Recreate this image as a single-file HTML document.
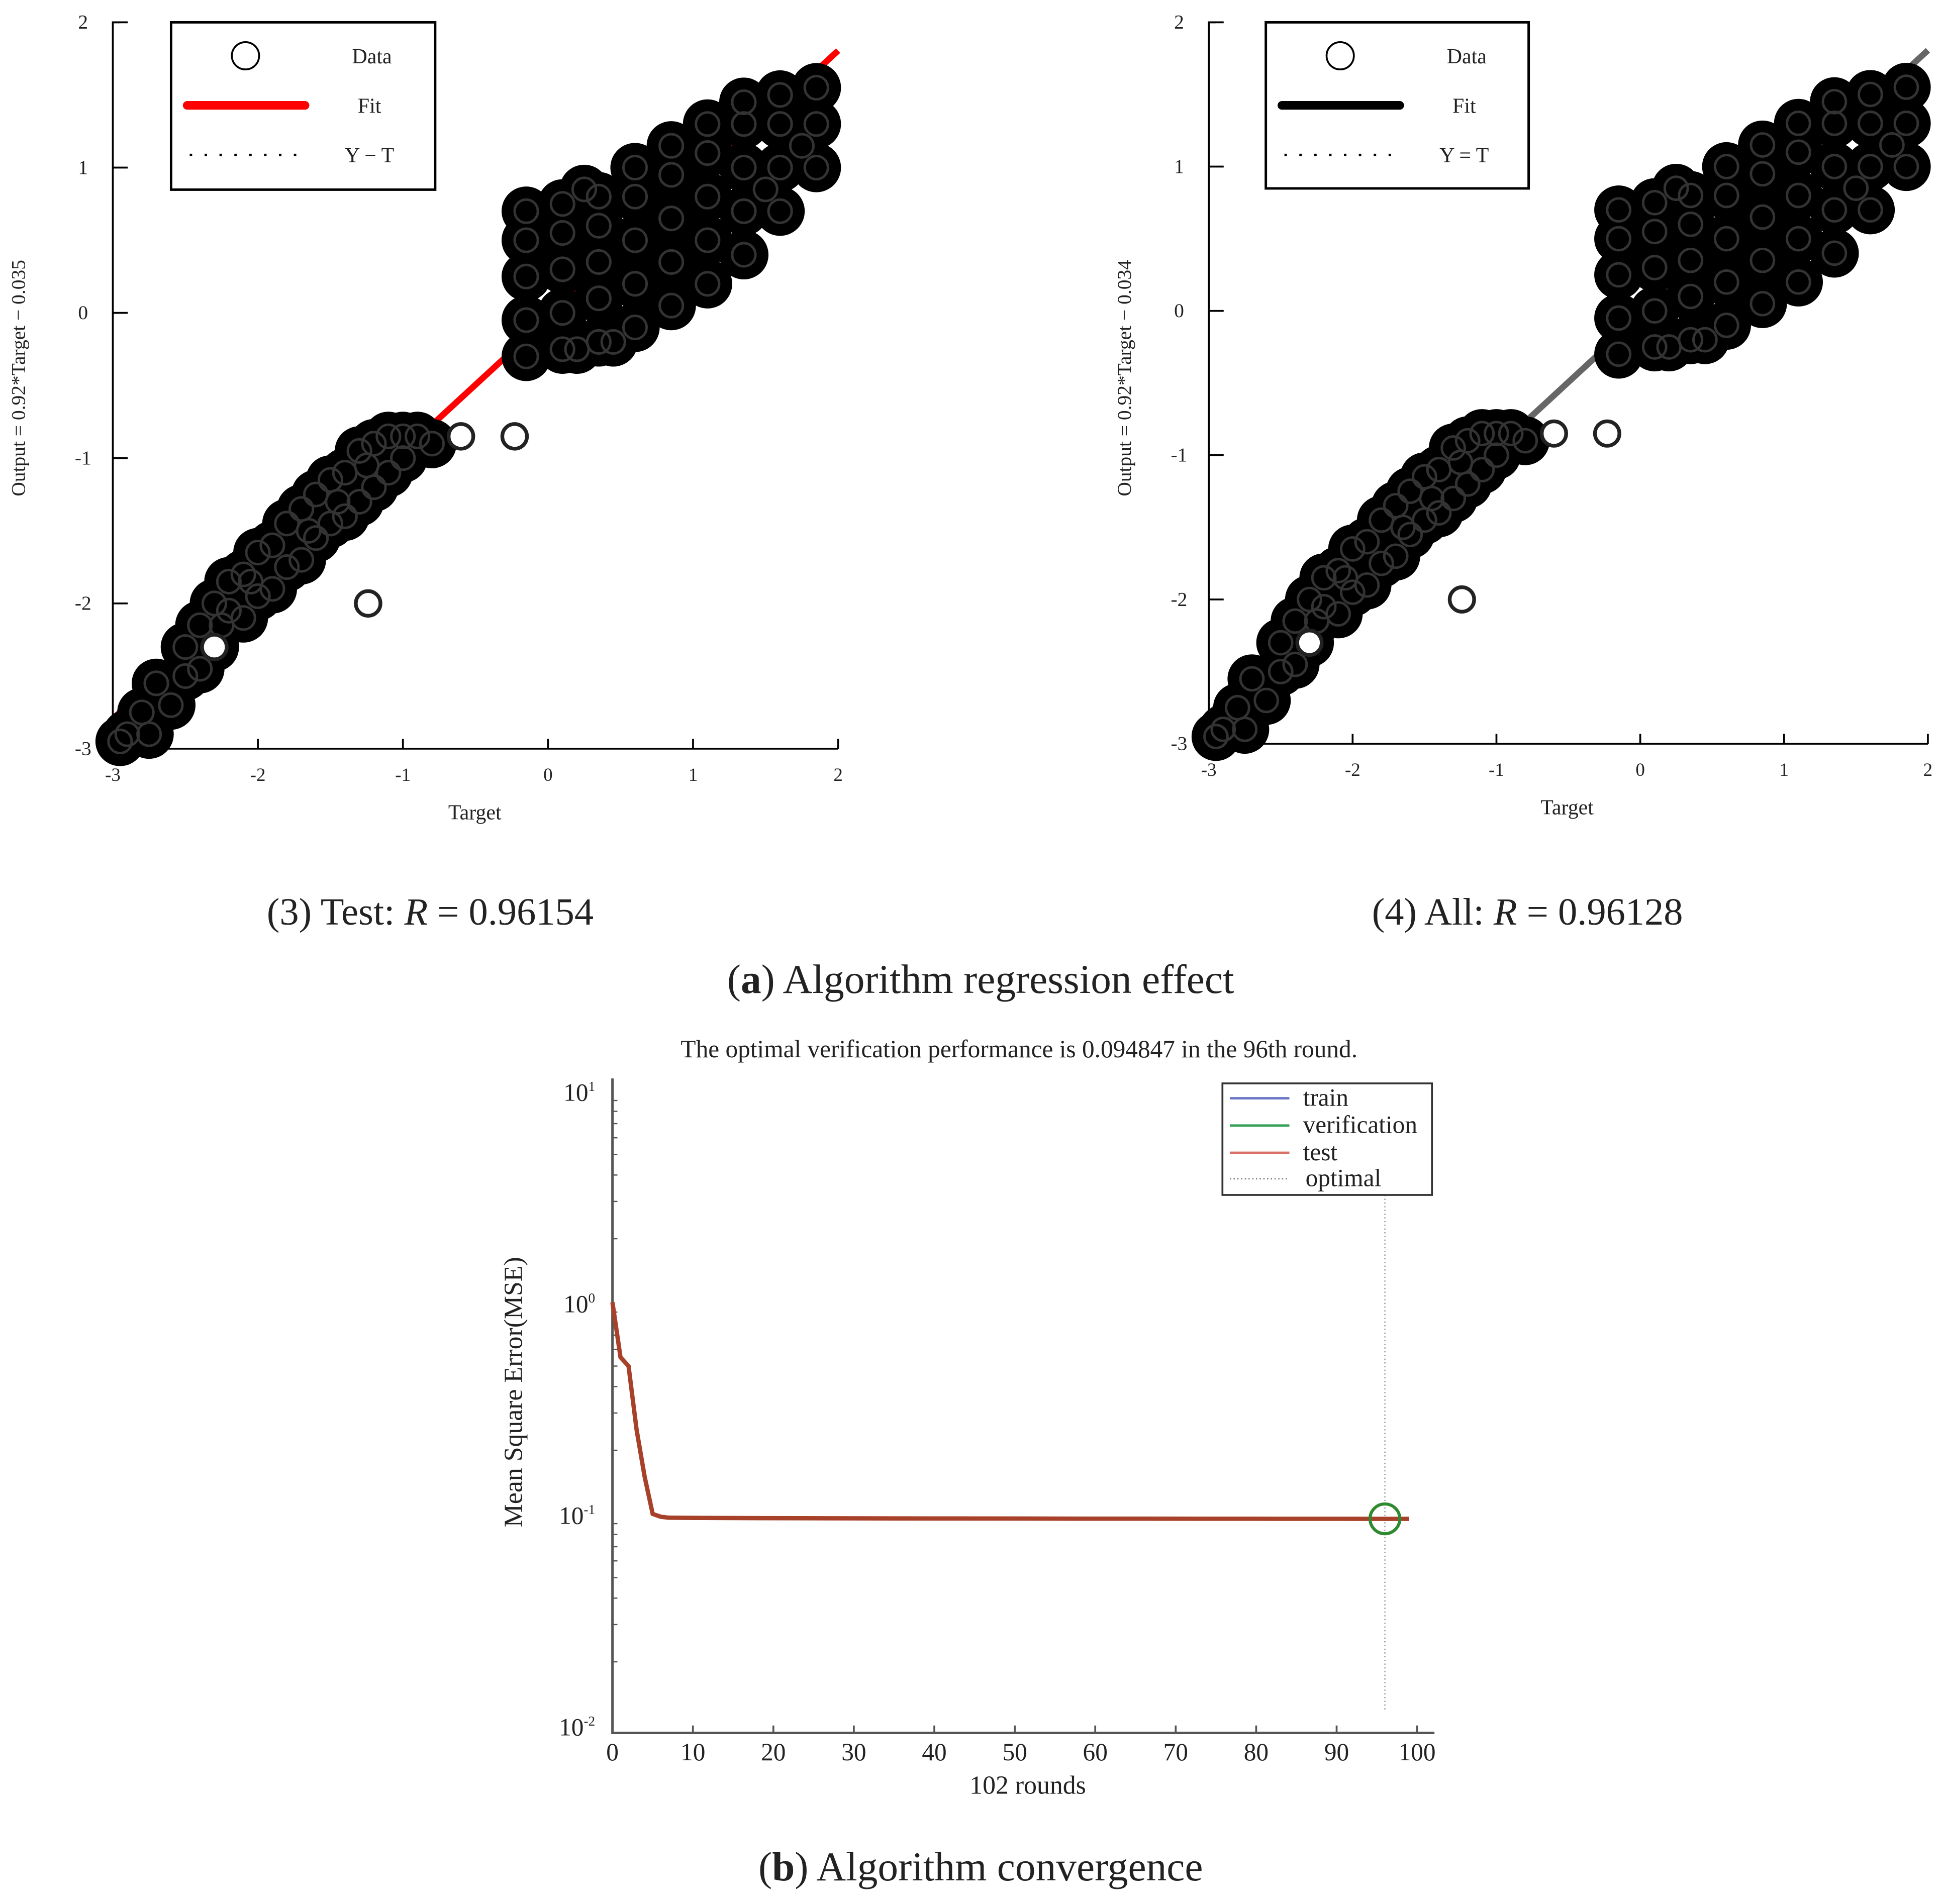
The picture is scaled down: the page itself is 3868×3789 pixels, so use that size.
<!DOCTYPE html>
<html><head><meta charset="utf-8"><style>
html,body{margin:0;padding:0;background:#fff;}
svg{display:block;}
text{font-family:"Liberation Serif",serif;fill:#222;}
</style></head><body>
<svg id="fig" width="3868" height="3789" viewBox="0 0 1568 1536" preserveAspectRatio="none" xmlns="http://www.w3.org/2000/svg">
<rect width="1568" height="1536" fill="#fff"/>
<g id="p1"></g>
<g id="p2"></g>
<g id="p3"></g>
<text x="347" y="746" font-size="31" text-anchor="middle">(3) Test: <tspan font-style="italic">R</tspan> = 0.96154</text>
<text x="1232" y="746" font-size="31" text-anchor="middle">(4) All: <tspan font-style="italic">R</tspan> = 0.96128</text>
<text x="791" y="801" font-size="33" text-anchor="middle">(<tspan font-weight="bold">a</tspan>) Algorithm regression effect</text>
<text x="791" y="1517" font-size="33" text-anchor="middle">(<tspan font-weight="bold">b</tspan>) Algorithm convergence</text>
</svg>
<script>
// Scatter data (target, output)
const lowTargets = [-2.9,-2.8,-2.7,-2.6,-2.5,-2.5,-2.4,-2.4,-2.3,-2.3,-2.2,-2.2,-2.1,-2.1,-2.0,-2.0,-1.9,-1.9,-1.8,-1.8,-1.7,-1.7,-1.6,-1.6,-1.5,-1.5,-1.4,-1.4,-1.3,-1.3,-1.2,-1.2,-1.1,-1.1,-1.0,-1.0,-0.9,-0.8,-2.95,-2.75,-1.65,-1.45,-1.25,-2.05,-2.25];
const lowOutputs = [-2.9,-2.75,-2.55,-2.7,-2.3,-2.5,-2.15,-2.45,-2.0,-2.3,-2.05,-1.85,-1.8,-2.1,-1.65,-1.95,-1.6,-1.9,-1.45,-1.75,-1.35,-1.7,-1.25,-1.55,-1.15,-1.45,-1.1,-1.4,-0.95,-1.3,-0.9,-1.2,-0.85,-1.1,-0.85,-1.0,-0.85,-0.9,-2.95,-2.9,-1.5,-1.3,-1.05,-1.85,-2.15];
const upTargets = [-0.15,-0.15,-0.15,-0.15,-0.15,0.1,0.1,0.1,0.1,0.1,0.35,0.35,0.35,0.35,0.35,0.6,0.6,0.6,0.6,0.6,0.85,0.85,0.85,0.85,0.85,1.1,1.1,1.1,1.1,1.1,1.35,1.35,1.35,1.35,1.35,1.6,1.6,1.6,1.6,1.85,1.85,1.85,0.25,0.45,0.2,1.75,1.5];
const upOutputs = [-0.3,-0.05,0.25,0.5,0.7,-0.25,0.0,0.3,0.55,0.75,-0.2,0.1,0.35,0.6,0.8,-0.1,0.2,0.5,0.8,1.0,0.05,0.35,0.65,0.95,1.15,0.2,0.5,0.8,1.1,1.3,0.4,0.7,1.0,1.3,1.45,0.7,1.0,1.3,1.5,1.0,1.3,1.55,0.85,-0.2,-0.25,1.15,0.85];
const outTargets = [-1.24,-0.23,-2.3,-0.6];
const outOutputs = [-2.0,-0.85,-2.3,-0.85];
const xTicks = [-3,-2,-1,0,1,2];
const yTicks = [2,1,0,-1,-2,-3];
// Convergence data
const epochs = [0,1,2,3,4,5,6,7,10,20,40,60,80,96,99];
const mseValues = [1.0,0.55,0.5,0.25,0.15,0.1,0.097,0.096,0.0958,0.0955,0.0952,0.095,0.0949,0.0948,0.0948];
const roundTicks = [0,10,20,30,40,50,60,70,80,90,100];
const logTicks = [1,0,-1,-2];
const bestEpoch = 96, bestMse = 0.0948;

const NS="http://www.w3.org/2000/svg";
function mk(parent,tag,attrs,txt){const e=document.createElementNS(NS,tag);for(const k in attrs)e.setAttribute(k,attrs[k]);if(txt!==undefined)e.textContent=txt;parent.appendChild(e);return e;}

function scatter(g,cfg){
  const sx=t=>cfg.x0+(t+3)*(cfg.x1-cfg.x0)/5;
  const sy=o=>cfg.y0+(2-o)*(cfg.y1-cfg.y0)/5;
  let a=mk(g,'path',{d:`M${cfg.x0+6} ${cfg.y0}H${cfg.x0}V${cfg.y1}H${cfg.x1}`,stroke:'#000','stroke-width':1.5,fill:'none'});
  
  
  xTicks.forEach(v=>{
    let t=mk(g,'line',{x1:sx(v),x2:sx(v),y1:cfg.y1,y2:cfg.y1-8,stroke:'#000','stroke-width':1.5});
    
    
    let l=mk(g,'text',{x:sx(v),y:cfg.y1+26,'font-size':15,'text-anchor':'middle'},String(v));
    
    
  });
  yTicks.forEach(v=>{
    let t=mk(g,'line',{x1:cfg.x0,x2:cfg.x0+12,y1:sy(v),y2:sy(v),stroke:'#000','stroke-width':1.5});
    
    
    let l=mk(g,'text',{x:cfg.x0-24,y:sy(v)+5,'font-size':16,'text-anchor':'middle'},String(v));
    
    
  });
  let f=mk(g,'line',{x1:sx(-3),y1:sy(0.92*-3-cfg.b),x2:sx(2),y2:sy(0.92*2-cfg.b),stroke:cfg.fit,'stroke-width':5});
  
  
  const u=(cfg.x1-cfg.x0)/5;
  const pts=g.appendChild(document.createElementNS(NS,'g'));
  
  
  const all=[[lowTargets,lowOutputs],[upTargets,upOutputs]];
  all.forEach(([T,O])=>{T.forEach((t,i)=>{
    let c=mk(pts,'circle',{cx:sx(t),cy:sy(O[i]),r:u*0.17,fill:'#000'});
    
    
  });});
  all.forEach(([T,O])=>{T.forEach((t,i)=>{
    let c=mk(pts,'circle',{cx:sx(t),cy:sy(O[i]),r:u*0.08,fill:'none',stroke:'#333','stroke-width':2});
    
    
  });});
  outTargets.forEach((t,i)=>{
    let c=mk(pts,'circle',{cx:sx(t),cy:sy(outOutputs[i]),r:u*0.085,fill:'#fff',stroke:'#222','stroke-width':3});
    
    
  });
  const L=cfg.leg;
  let lg=mk(g,'g',{});
  
  
  mk(lg,'rect',{x:L[0],y:L[1],width:L[2],height:L[3],fill:'#fff',stroke:'#000','stroke-width':2});
  mk(lg,'circle',{cx:L[0]+60,cy:L[1]+27,r:11,fill:'none',stroke:'#000','stroke-width':1.5});
  mk(lg,'text',{x:L[0]+162,y:L[1]+33,'font-size':17,'text-anchor':'middle'},'Data');
  mk(lg,'line',{x1:L[0]+13,x2:L[0]+108,y1:L[1]+67,y2:L[1]+67,stroke:cfg.fitl,'stroke-width':7,'stroke-linecap':'round'});
  mk(lg,'text',{x:L[0]+160,y:L[1]+73,'font-size':17,'text-anchor':'middle'},'Fit');
  mk(lg,'line',{x1:L[0]+15,x2:L[0]+110,y1:L[1]+107,y2:L[1]+107,stroke:'#000','stroke-width':2,'stroke-dasharray':'2 10'});
  mk(lg,'text',{x:L[0]+160,y:L[1]+113,'font-size':17,'text-anchor':'middle'},cfg.yt);
  let xt=mk(g,'text',{x:cfg.xl,y:cfg.y1+57,'font-size':17,'text-anchor':'middle'},'Target');
  
  
  let yt=mk(g,'text',{x:cfg.yx,y:305,'font-size':16,'text-anchor':'middle',transform:`rotate(-90 ${cfg.yx} 305)`},cfg.ylab);
  
  
}
scatter(document.getElementById('p1'),{x0:91,x1:676,y0:18,y1:604,b:0.035,fit:'#f00',fitl:'#f00',leg:[138,18,213,135],yt:'Y − T',xl:383,yx:20,ylab:'Output = 0.92*Target − 0.035'});
scatter(document.getElementById('p2'),{x0:975,x1:1555,y0:18,y1:600,b:0.034,fit:'#666',fitl:'#000',leg:[1021,18,212,134],yt:'Y = T',xl:1264,yx:912,ylab:'Output = 0.92*Target − 0.034'});

(function(){
  const g=document.getElementById('p3');
  const X0=494,X1=1143,Y1=880,Y0=1392;
  const sx=v=>X0+v*(X1-X0)/100;
  const sy=v=>Y1+(1-Math.log10(v))*(Y0-Y1)/3;
  mk(g,'text',{x:822,y:853,'font-size':20,'text-anchor':'middle'},'The optimal verification performance is 0.094847 in the 96th round.');
  let ax=mk(g,'path',{d:`M${X0} 870V1398H1157`,stroke:'#555','stroke-width':2,fill:'none'});
  
  
  roundTicks.forEach(v=>{
    let t=mk(g,'line',{x1:sx(v),x2:sx(v),y1:1398,y2:1392,stroke:'#555','stroke-width':1.5});
    
    
    let l=mk(g,'text',{x:sx(v),y:1420,'font-size':20,'text-anchor':'middle'},String(v));
    
    
  });
  logTicks.forEach(p=>{
    let l=mk(g,'text',{x:480,y:sy(Math.pow(10,p))+8,'font-size':20,'text-anchor':'end'});
    
    
    l.textContent='10';
    mk(l,'tspan',{dy:-8,'font-size':11},String(p));
    for(let k=2;k<=9&&p>-2;k++){
      let t=mk(g,'line',{x1:X0,x2:X0+4,y1:sy(k*Math.pow(10,p-1)),y2:sy(k*Math.pow(10,p-1)),stroke:'#555','stroke-width':1});
      
      
    }
  });
  let xt=mk(g,'text',{x:829,y:1447,'font-size':21,'text-anchor':'middle'},'102 rounds');
  
  
  let yt=mk(g,'text',{x:421,y:1123,'font-size':21,'text-anchor':'middle',transform:'rotate(-90 421 1123)'},'Mean Square Error(MSE)');
  
  
  let opt=mk(g,'line',{x1:sx(bestEpoch),x2:sx(bestEpoch),y1:964,y2:1380,stroke:'#999','stroke-width':1,'stroke-dasharray':'1 2'});
  
  
  const d=epochs.map((e,i)=>(i?'L':'M')+sx(e)+' '+sy(mseValues[i])).join('');
  [['#4b5bbf','train-line'],['#2a9b4a','verification-line'],['#b5392f','test-line']].forEach(([c,n])=>{
    let p=mk(g,'path',{d:d,stroke:c,'stroke-width':3,fill:'none'});
    
    
  });
  let top=mk(g,'path',{d:d,stroke:'#a8412a','stroke-width':3.5,fill:'none'});
  
  
  let bc=mk(g,'circle',{cx:sx(bestEpoch),cy:sy(bestMse),r:12,fill:'none',stroke:'#2f8a2f','stroke-width':2.5});
  
  
  let lg=mk(g,'g',{});
  
  
  mk(lg,'rect',{x:986,y:874,width:169,height:90,fill:'#fff',stroke:'#333','stroke-width':1.5});
  [['#6b77c7','train',886],['#3aa35a','verification',908],['#d9706a','test',930]].forEach(([c,t,y])=>{
    mk(lg,'line',{x1:992,x2:1040,y1:y,y2:y,stroke:c,'stroke-width':2});
    mk(lg,'text',{x:1051,y:y+6,'font-size':20},t);
  });
  mk(lg,'line',{x1:992,x2:1040,y1:951,y2:951,stroke:'#666','stroke-width':1,'stroke-dasharray':'1 2'});
  mk(lg,'text',{x:1053,y:957,'font-size':20},'optimal');
})();
</script>
</body></html>
